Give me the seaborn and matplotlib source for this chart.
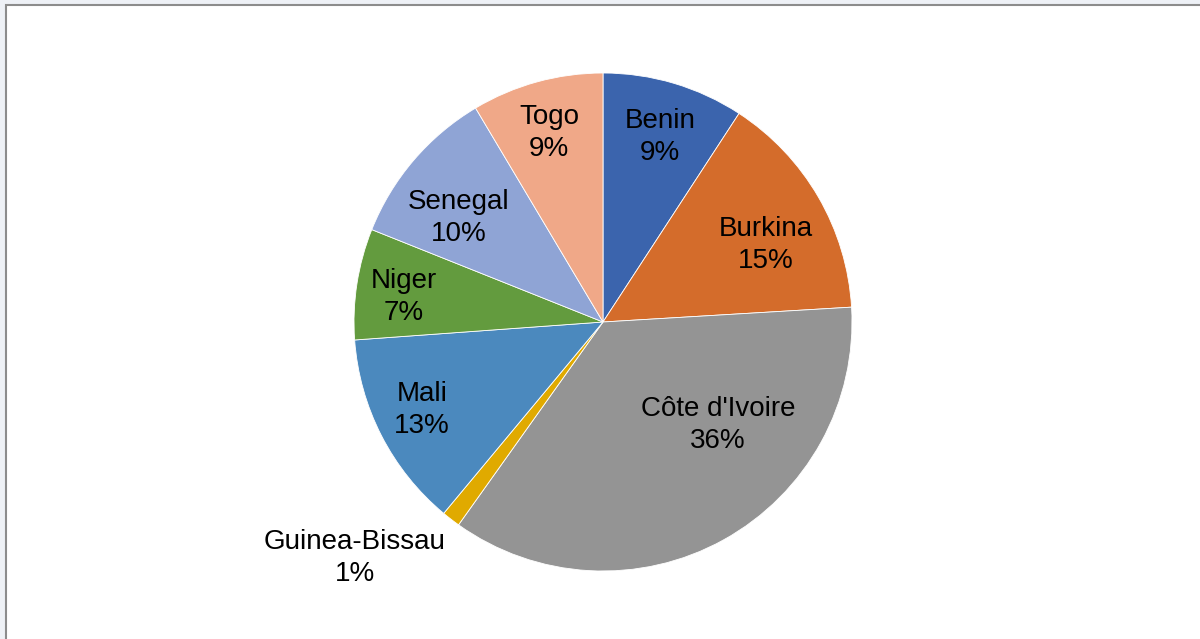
import matplotlib
matplotlib.use("Agg")
import matplotlib.pyplot as plt
import seaborn as sns
from matplotlib.patches import Rectangle

sns.set_style("white")
plt.rcParams['font.family'] = ['Liberation Sans', 'DejaVu Sans']

# data (percent share)
countries = ["Benin", "Burkina", "Côte d'Ivoire", "Guinea-Bissau",
             "Mali", "Niger", "Senegal", "Togo"]
shares = [9.2, 14.85, 35.8, 1.2, 12.8, 7.2, 10.4, 8.55]
pct_labels = ["9%", "15%", "36%", "1%", "13%", "7%", "10%", "9%"]
colors = ["#3B64AD", "#D46C2B", "#949494", "#E0AA00",
          "#4B89BE", "#639B3E", "#8FA4D5", "#F0A888"]
# label centres relative to pie centre (in pie radii)
label_xy = [(0.229, 0.743), (0.655, 0.309), (0.462, -0.414), (-0.996, -0.948),
            (-0.727, -0.353), (-0.799, 0.100), (-0.578, 0.418), (-0.217, 0.760)]

fig = plt.figure(figsize=(12, 6.39), dpi=100)
fig.patch.set_facecolor("#eef1f6")

# white chart area with grey frame (bottom/right edges fall outside the image)
frame = Rectangle((6 / 1200, -0.05), 1.1, 1.05 - 5 / 639, transform=fig.transFigure,
                  facecolor="white", edgecolor="#8c8c8c", linewidth=1.5, zorder=-5)
fig.patches.append(frame)

ax = fig.add_axes([0, 0, 1, 1])
ax.set_zorder(1)
ax.patch.set_alpha(0)
ax.pie(shares, colors=colors, startangle=90, counterclock=False,
       radius=1.0, center=(0, 0),
       wedgeprops=dict(edgecolor="white", linewidth=0.6))

for name, pct, (lx, ly) in zip(countries, pct_labels, label_xy):
    ax.text(lx, ly, f"{name}\n{pct}", ha="center", va="center",
            fontsize=20, color="black", linespacing=1.28)

ax.set_xlim(-603 / 249, 597 / 249)
ax.set_ylim(-317 / 249, 322 / 249)
ax.set_aspect("auto")
ax.axis("off")

fig.savefig("out.png", dpi=100, facecolor=fig.get_facecolor())
